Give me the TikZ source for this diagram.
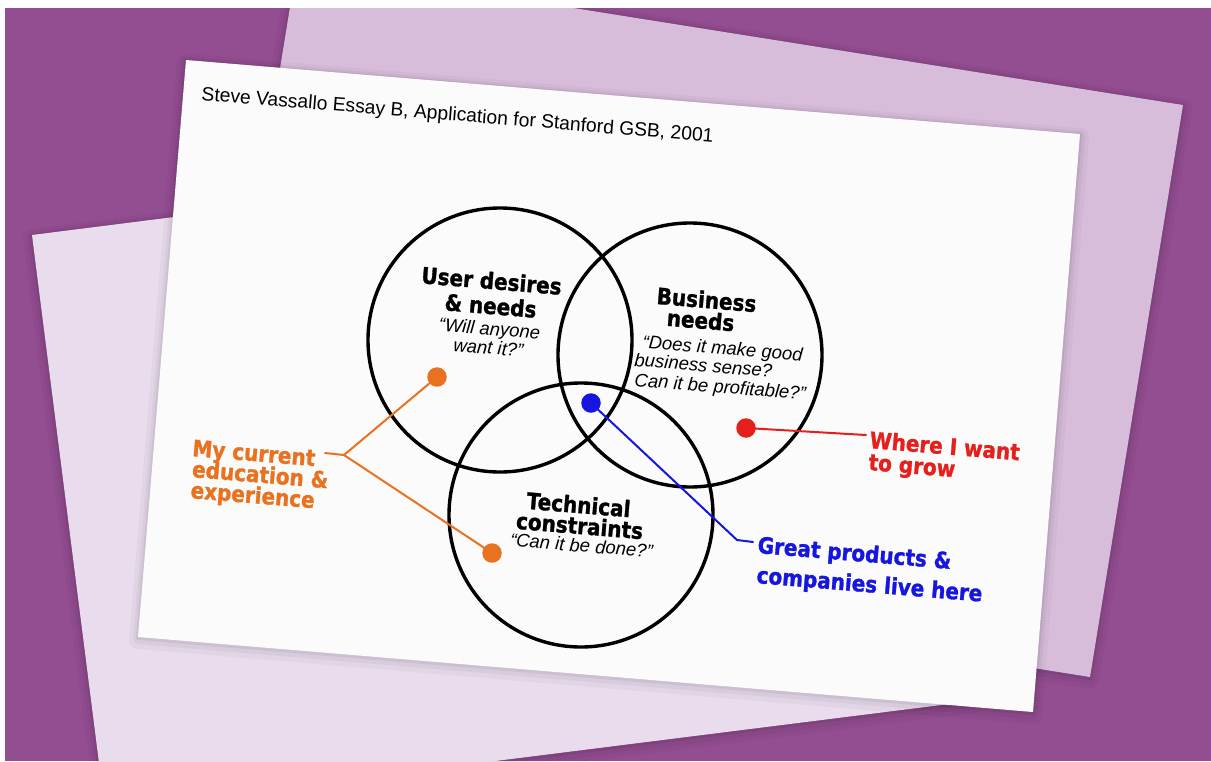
\documentclass[tikz,border=0pt]{standalone}
\usepackage{fontspec}
\setmainfont{Liberation Sans}
\newfontfamily\heavyfont{DejaVu Sans}[FakeStretch=0.885, BoldFeatures={FakeBold=1.3}]
\definecolor{bgpurple}{RGB}{147,77,145}
\definecolor{lilac}{RGB}{216,189,219}
\definecolor{pale}{RGB}{233,220,237}
\definecolor{sheet}{RGB}{251,251,251}
\definecolor{edorange}{RGB}{233,114,32}
\definecolor{growred}{RGB}{229,32,28}
\definecolor{liveblue}{RGB}{22,22,222}
\tikzset{
  papershade/.style={
    preaction={draw=black,draw opacity=0.03,line width=18,line join=round,transform canvas={yshift=-3pt}},
    preaction={draw=black,draw opacity=0.04,line width=10,line join=round,transform canvas={yshift=-2pt}},
    preaction={draw=black,draw opacity=0.06,line width=4,line join=round,transform canvas={yshift=-1pt}}},
  papertitle/.style={font=\fontsize{19.3}{21}\selectfont, rotate=-4.7, inner sep=0pt, anchor=base west},
  headline/.style={font=\heavyfont\bfseries\fontsize{22.6}{24}\selectfont, rotate=-4.7, inner sep=0pt, anchor=base},
  question/.style={font=\itshape\fontsize{18.5}{20}\selectfont, rotate=-4.7, inner sep=0pt, anchor=base},
  callout/.style={headline, anchor=base west},
  vennring/.style={draw=black, line width=3.4pt},
  pindot/.style={circle, inner sep=0pt, minimum size=19.5pt},
  leader/.style={line width=2pt, line cap=round, line join=round},
}
\begin{document}
\begin{tikzpicture}[x=1pt,y=-1pt]
\useasboundingbox (0,0) rectangle (1211,761);
\fill[white] (0,0) rectangle (1211,761);
\begin{scope}
\clip (5,8) rectangle (1211,761);
\fill[bgpurple] (5,8) rectangle (1211,761);
% back papers
\fill[lilac, papershade] (297,-36) -- (1183,105) -- (1090,677) -- (204,536) -- cycle;
\fill[pale, papershade] (32,235) -- (900,125) -- (973,701) -- (105,810) -- cycle;
\fill[sheet, papershade] (186,60) -- (1080,134) -- (1033,712) -- (138,637) -- cycle;
\end{scope}

% title
\node[papertitle] (title) at (201,100) {Steve Vassallo Essay B, Application for Stanford GSB, 2001};

% Venn circles
\draw[vennring] (500,340) circle[radius=132];
\draw[vennring] (690,355) circle[radius=132];
\draw[vennring] (581,515) circle[radius=132];

% circle labels
\node[headline] (u1) at (491,289) {User desires};
\node[headline] (u2) at (490,314) {\& needs};
\node[question] (u3) at (489,335) {“Will anyone};
\node[question] (u4) at (488,354) {want it?”};

\node[headline] (b1) at (706,308) {Business};
\node[headline] (b2) at (700,328.5) {needs};
\node[question, anchor=base west] (b3) at (642,348) {“Does it make good};
\node[question, anchor=base west] (b4) at (634,366) {business sense?};
\node[question, anchor=base west] (b5) at (634,386) {Can it be profitable?”};

\node[headline] (t1) at (578,513) {Technical};
\node[headline] (t2) at (579,534) {constraints};
\node[question] (t3) at (581,552) {“Can it be done?”};

% orange callout
\node[callout, text=edorange] (o1) at (191.8,456) {My current};
\node[callout, text=edorange] (o2) at (191.5,477) {education \&};
\node[callout, text=edorange] (o3) at (190,498) {experience};
\node[pindot, fill=edorange] (od1) at (437,377) {};
\node[pindot, fill=edorange] (od2) at (492,553) {};
\coordinate (ojoin) at (344,455);
\coordinate (otick) at (325,453);
\draw[leader, edorange] (otick) -- (ojoin) -- (od1.center);
\draw[leader, edorange] (ojoin) -- (od2.center);

% red callout
\node[callout, text=growred] (r1) at (869,448) {Where I want};
\node[callout, text=growred] (r2) at (868,470) {to grow};
\node[pindot, fill=growred] (rd) at (746,428) {};
\coordinate (rend) at (866,435);
\draw[leader, growred] (rd.center) -- (rend);

% blue callout
\node[callout, text=liveblue] (g1) at (757,553) {Great products \&};
\node[callout, text=liveblue] (g2) at (756,583) {companies live here};
\node[pindot, fill=liveblue] (gd) at (591,403) {};
\coordinate (gknee) at (737,540);
\coordinate (gend) at (753,542);
\draw[leader, liveblue] (gd.center) -- (gknee) -- (gend);
\end{tikzpicture}
\end{document}
